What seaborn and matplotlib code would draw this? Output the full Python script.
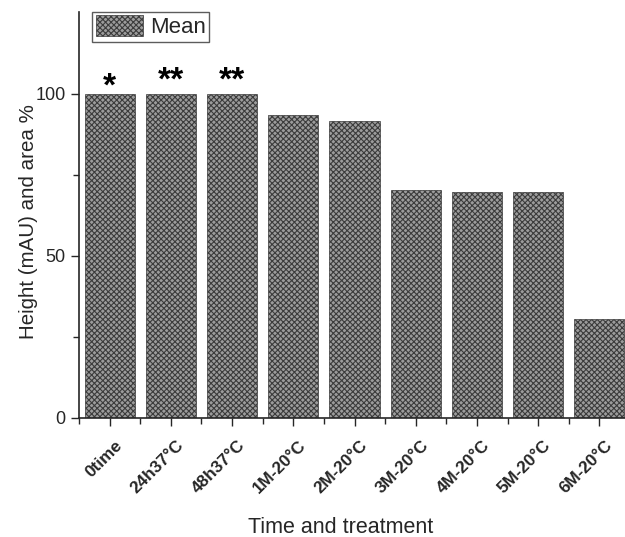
import matplotlib
matplotlib.use("Agg")
import matplotlib.pyplot as plt
import matplotlib.transforms as mtransforms
import seaborn as sns
import pandas as pd
from matplotlib.patches import Patch

sns.set_style("ticks")
plt.rcParams["font.family"] = ["Liberation Sans", "DejaVu Sans"]
plt.rcParams["hatch.color"] = "#3c3c3c"
plt.rcParams["hatch.linewidth"] = 0.8

categories = ["0time", "24h37°C", "48h37°C", "1M-20°C", "2M-20°C",
              "3M-20°C", "4M-20°C", "5M-20°C", "6M-20°C"]
means = [100.0, 100.0, 100.0, 93.4, 91.7, 70.5, 69.6, 69.6, 30.7]
marks = ["*", "**", "**", "", "", "", "", "", ""]

df = pd.DataFrame({"group": categories, "mean": means})

fig = plt.figure(figsize=(6.25, 5.37), dpi=100)
ax = fig.add_axes([79 / 625, 1 - 418 / 537, (630 - 79) / 625, (418 - 12) / 537])

sns.barplot(data=df, x="group", y="mean", color="#9c9c9c", width=0.82,
            saturation=1, ax=ax)
for p in ax.patches:
    p.set_hatch("xxxxxx")
    p.set_edgecolor("#3c3c3c")
    p.set_linewidth(0.5)

# significance marks above the first bars
for i, (m, t) in enumerate(zip(means, marks)):
    if t:
        lift = 2.0 if len(t) == 1 else 4.0
        ax.text(i, m + lift, t, ha="center", va="center", fontsize=24,
                fontweight="bold", color="black")

ax.set_xlim(-0.5, 8.5)
ax.set_ylim(0, 125.3)
ax.set_yticks([0, 50, 100])
ax.set_yticks([25, 75], minor=True)
ax.set_xticks([i + 0.5 for i in range(-1, 9)], minor=True)
ax.tick_params(axis="both", which="major", length=6, width=1, direction="out")
ax.tick_params(axis="both", which="minor", length=4, width=1, direction="out")
ax.tick_params(axis="y", labelsize=13)
ax.tick_params(axis="x", which="major", pad=8)
ax.set_xticks(range(len(categories)))
ax.set_xticklabels(categories, rotation=45, ha="right", rotation_mode="anchor",
                   fontsize=12.3, fontweight="bold")
shift = mtransforms.ScaledTranslation(5 / 100, 0, fig.dpi_scale_trans)
for lbl in ax.get_xticklabels():
    lbl.set_transform(lbl.get_transform() + shift)
for s in ["top", "right"]:
    ax.spines[s].set_visible(False)
for s in ["left", "bottom"]:
    ax.spines[s].set_linewidth(1.2)

ax.set_xlabel("Time and treatment", fontsize=15.5)
ax.set_ylabel("Height (mAU) and area %", fontsize=14.8)
ax.xaxis.set_label_coords(0.474, -0.243)
ax.yaxis.set_label_coords(-0.074, 0.484)

handle = Patch(facecolor="#9c9c9c", edgecolor="#3c3c3c", hatch="xxxxxx",
               linewidth=0.5, label="Mean")
leg = ax.legend(handles=[handle], loc="upper left", bbox_to_anchor=(0.024, 1.0),
                fontsize=16, frameon=True, fancybox=False, borderpad=0.15,
                handlelength=2.15, handleheight=1.08, handletextpad=0.3,
                borderaxespad=0.0)
leg.get_frame().set_edgecolor("#333333")
leg.get_frame().set_linewidth(1.0)

fig.savefig("out.png", dpi=100)
